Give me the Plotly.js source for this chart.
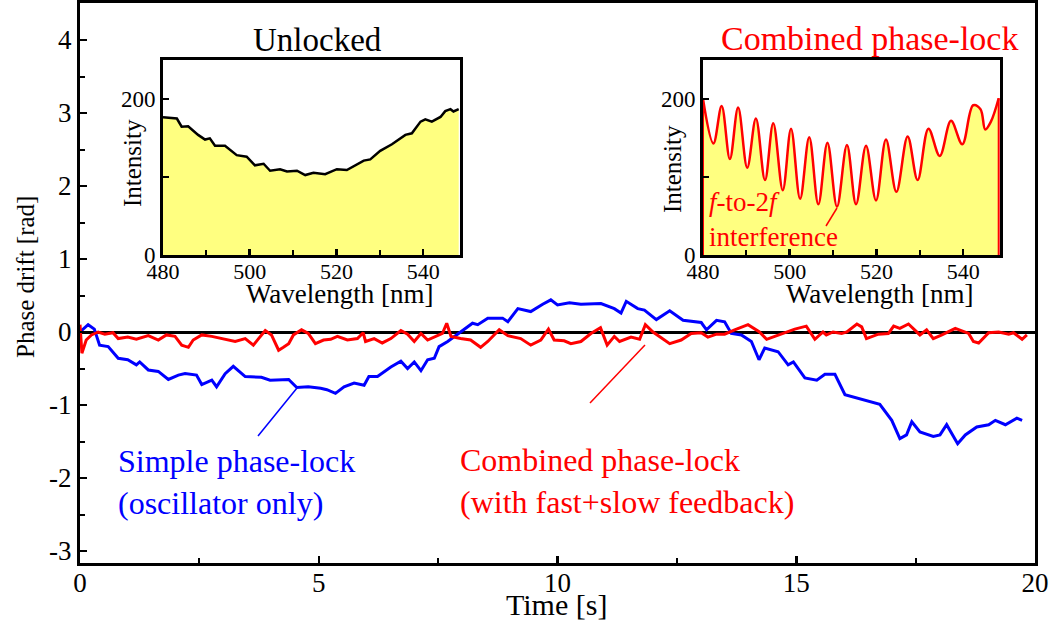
<!DOCTYPE html>
<html>
<head>
<meta charset="utf-8">
<script src="https://cdn.plot.ly/plotly-3.0.1.min.js"></script>
<style>html,body{margin:0;padding:0;background:#fff;}#chart{width:1050px;height:620px;}</style>
</head>
<body>
<div id="chart"></div>
<script>
// ---- Main panel: phase drift vs time ----
const blueT = [0,0.17,0.3,0.41,0.59,0.8,1.0,1.18,1.25,1.43,1.64,1.85,2.06,2.2,2.44,2.55,2.76,2.86,3.04,3.21,3.46,3.8,3.98,4.37,4.54,4.78,5.04,5.17,5.35,5.53,5.74,5.95,6.05,6.23,6.51,6.72,6.86,7.0,7.14,7.28,7.42,7.52,7.7,7.97,8.22,8.33,8.54,8.85,8.96,9.17,9.44,9.69,9.86,10.0,10.25,10.49,10.91,11.19,11.33,11.44,11.68,11.82,12.07,12.35,12.63,13.01,13.12,13.33,13.5,13.64,13.85,14.06,14.22,14.34,14.62,14.83,14.94,15.18,15.43,15.6,15.81,16.02,16.3,16.58,16.75,17.0,17.17,17.31,17.42,17.59,17.87,18.01,18.15,18.38,18.54,18.78,19.03,19.17,19.38,19.62,19.73];
const blueV = [0,0.1,0.04,-0.18,-0.2,-0.36,-0.38,-0.45,-0.41,-0.52,-0.54,-0.65,-0.59,-0.57,-0.59,-0.72,-0.66,-0.75,-0.57,-0.47,-0.61,-0.62,-0.66,-0.65,-0.76,-0.75,-0.77,-0.79,-0.84,-0.75,-0.70,-0.73,-0.61,-0.61,-0.48,-0.40,-0.50,-0.41,-0.53,-0.38,-0.36,-0.2,-0.13,0,0.12,0.1,0.19,0.19,0.14,0.32,0.28,0.38,0.44,0.37,0.40,0.38,0.39,0.32,0.26,0.42,0.32,0.30,0.17,0.29,0.16,0.13,0.03,0.16,0.14,-0.02,-0.04,-0.13,-0.38,-0.22,-0.27,-0.45,-0.41,-0.63,-0.66,-0.58,-0.58,-0.86,-0.91,-0.95,-0.99,-1.21,-1.46,-1.41,-1.23,-1.37,-1.43,-1.41,-1.27,-1.53,-1.41,-1.30,-1.27,-1.21,-1.27,-1.18,-1.21];

const redT = [0,0.04,0.13,0.24,0.38,0.52,0.69,0.8,1.0,1.18,1.43,1.64,1.81,1.99,2.13,2.27,2.37,2.55,2.76,3.04,3.25,3.46,3.63,3.74,3.88,4.01,4.16,4.26,4.37,4.47,4.64,4.78,4.93,5.1,5.25,5.39,5.6,5.81,5.93,5.98,6.16,6.33,6.51,6.72,6.86,7.0,7.14,7.28,7.45,7.59,7.68,7.77,7.97,8.18,8.39,8.54,8.78,8.96,9.23,9.44,9.65,9.81,9.93,10.14,10.28,10.49,10.7,10.9,11.04,11.19,11.3,11.54,11.72,11.84,12.0,12.35,12.59,12.8,13.01,13.15,13.33,13.5,13.71,13.99,14.23,14.38,14.55,14.73,14.97,15.21,15.39,15.56,15.63,15.77,15.95,16.06,16.27,16.37,16.47,16.72,16.93,17.04,17.17,17.35,17.59,17.73,17.87,18.05,18.33,18.61,18.71,18.82,19.03,19.24,19.45,19.55,19.73,19.83];
const redV = [0.1,-0.29,-0.11,-0.04,0,-0.03,-0.01,-0.09,-0.07,-0.1,-0.05,-0.11,-0.04,-0.06,-0.18,-0.21,-0.11,-0.04,-0.06,-0.1,-0.13,-0.09,-0.18,-0.09,0.02,-0.04,-0.25,-0.21,-0.16,-0.04,0.03,-0.02,-0.16,-0.11,-0.1,-0.06,-0.11,-0.09,-0.01,-0.13,-0.09,-0.15,-0.09,0.02,-0.03,-0.13,-0.02,-0.11,-0.06,-0.02,0.12,-0.06,-0.09,-0.11,-0.21,-0.13,0.03,-0.05,-0.09,-0.18,-0.11,0.04,-0.11,-0.12,-0.16,-0.13,-0.02,0.06,-0.18,-0.06,-0.13,-0.07,-0.1,0.1,0.0,-0.16,-0.11,-0.02,-0.01,-0.07,-0.03,-0.03,0.03,0.1,0,-0.1,-0.06,-0.02,0.04,0.08,-0.1,0,-0.04,0,-0.02,0,0.11,0.07,-0.09,-0.03,-0.02,0.08,0.05,0.11,-0.04,0.03,-0.09,-0.04,0.05,-0.02,-0.13,-0.15,-0.01,0,-0.03,-0.01,-0.1,-0.04];

// ---- Inset 1: unlocked spectrum ----
const wlU = [480,483.2,484.3,485.8,488.1,489.7,490.8,492,494.3,497,499.3,501.2,503.2,504.7,507,508.6,510.9,512.8,514.7,517.4,520.1,522.4,526.3,527.8,530.1,532.8,535.9,537.4,539.4,540.5,542,544,545.1,546.3,547,548.2];
const intU = [176.5,175,164.5,165,154,148,149.5,140,140,128,126,115,117,108,110,107,108,102.5,105.5,103.5,110,109,121,122.5,133.5,142,154,156,171,174,171,177,184.5,187,184,187];

// ---- Inset 2: combined phase-lock spectrum (f-to-2f fringes) ----
const wlC = [480,482.4,484.3,486.2,488.1,490.2,492.2,494.3,496.2,498.4,500.3,502.4,504.5,506.6,508.7,510.9,513.2,515.3,517.6,519.9,522.2,524.6,527.2,529.5,532,534.6,537.2,539.8,542.3,544,545.1,546.4,548.2];
const intC = [200,143,191,123,189,112,175,96,169,83,162,72,151,65,144,62,141,65,140,70,148,81,152,96,162,127,172,142,192,187,161,171,201];

// tick labels
const mainXTicks = [0,5,10,15,20];
const mainXText = ['0','5','10','15','20'];
const mainYTicks = [-3,-2,-1,0,1,2,3,4];
const mainYText = ['-3','-2','-1','0','1','2','3','4'];
const insetXTicks = [480,500,520,540];
const insetXText = ['480','500','520','540'];
const insetYTicks = [0,100,200];
const insetYText = ['0','','200'];

const FONT = 'Liberation Serif, Times New Roman, serif';
const W = 1050, H = 620;
const L = 80, R = 1035, T = 3, B = 563;
const P = px => (px - L) / (R - L);
const Q = py => (B - py) / (B - T);

const yellow = 'rgb(255,255,128)';
const lastC = wlC.length - 1;

const traces = [
  {x: wlU, y: intU, xaxis: 'x2', yaxis: 'y2', type: 'scatter', mode: 'lines',
   line: {color: 'black', width: 2.5}, fill: 'tozeroy', fillcolor: yellow, hoverinfo: 'skip'},
  {x: wlC, y: intC, xaxis: 'x3', yaxis: 'y3', type: 'scatter', mode: 'lines',
   line: {color: 'red', width: 2.5, shape: 'spline', smoothing: 1}, fill: 'tozeroy', fillcolor: yellow, hoverinfo: 'skip'},
  {x: [wlC[0], wlC[0], null, wlC[lastC], wlC[lastC]], y: [0, intC[0], null, 0, intC[lastC]],
   xaxis: 'x3', yaxis: 'y3', type: 'scatter', mode: 'lines', line: {color: 'red', width: 2}, hoverinfo: 'skip'},
  {x: blueT, y: blueV, type: 'scatter', mode: 'lines', line: {color: 'blue', width: 3}},
  {x: redT, y: redV, type: 'scatter', mode: 'lines', line: {color: 'red', width: 3}}
];

const tf = (s) => ({family: FONT, size: s, color: 'black'});

function insetX(dom, anchor) {
  return {domain: dom, anchor: anchor, range: [480, 548.5], showline: true, mirror: true,
    linecolor: 'black', linewidth: 3, ticks: 'inside', ticklen: 6, tickwidth: 2.5, tickcolor: 'black',
    tickvals: insetXTicks, ticktext: insetXText, ticklabelstandoff: -5,
    minor: {ticks: 'inside', ticklen: 5, tickwidth: 2, tickcolor: 'black', tick0: 480, dtick: 10},
    showgrid: false, zeroline: false, tickfont: tf(22), fixedrange: true};
}
function insetY(dom, anchor) {
  return {domain: dom, anchor: anchor, range: [0, 250], showline: true, mirror: true,
    linecolor: 'black', linewidth: 3, ticks: 'inside', ticklen: 6, tickwidth: 2.5, tickcolor: 'black',
    tickvals: insetYTicks, ticktext: insetYText, showgrid: false, zeroline: false, tickfont: tf(23), fixedrange: true};
}

const insetYDom = [Q(255), Q(60)];

function ann(px, py, text, size, color, extra) {
  return Object.assign({xref: 'paper', yref: 'paper', x: P(px), y: Q(py), text: text, showarrow: false,
    xanchor: 'center', yanchor: 'middle', font: {family: FONT, size: size, color: color}}, extra || {});
}

const layout = {
  width: W, height: H,
  margin: {l: L, r: W - R, t: T, b: H - B, pad: 0},
  paper_bgcolor: 'white', plot_bgcolor: 'white',
  showlegend: false,
  font: {family: FONT, color: 'black'},
  xaxis: {range: [0, 20], showline: true, mirror: true, linecolor: 'black', linewidth: 3,
    ticks: 'inside', ticklen: 7, tickwidth: 2.5, tickcolor: 'black', tickvals: mainXTicks, ticktext: mainXText,
    ticklabelstandoff: -6,
    minor: {ticks: 'inside', ticklen: 5, tickwidth: 2, tickcolor: 'black', tick0: 0, dtick: 2.5},
    showgrid: false, zeroline: false, tickfont: tf(27)},
  yaxis: {range: [(332 - 563) / 73, (332 - 3) / 73], showline: true, mirror: true, linecolor: 'black', linewidth: 3,
    ticks: 'inside', ticklen: 7, tickwidth: 2.5, tickcolor: 'black', tickvals: mainYTicks, ticktext: mainYText,
    minor: {ticks: 'inside', ticklen: 5, tickwidth: 2, tickcolor: 'black', tick0: 0, dtick: 0.5},
    showgrid: false, zeroline: true, zerolinecolor: 'black', zerolinewidth: 3, tickfont: tf(27)},
  xaxis2: insetX([P(163), P(460)], 'y2'),
  yaxis2: insetY(insetYDom, 'x2'),
  xaxis3: insetX([P(703), P(1000)], 'y3'),
  yaxis3: insetY(insetYDom, 'x3'),
  shapes: [
    {type: 'line', xref: 'paper', yref: 'paper', x0: P(258), y0: Q(436), x1: P(297), y1: Q(388), line: {color: 'blue', width: 1.5}},
    {type: 'line', xref: 'paper', yref: 'paper', x0: P(590), y0: Q(403), x1: P(645), y1: Q(345), line: {color: 'red', width: 1.5}},
    {type: 'line', xref: 'paper', yref: 'paper', x0: P(826), y0: Q(226), x1: P(837), y1: Q(208), line: {color: 'red', width: 1.5}}
  ],
  annotations: [
    ann(317, 40, 'Unlocked', 33, 'black'),
    ann(869, 38, 'Combined phase-lock', 34, 'red'),
    ann(132, 163, 'Intensity', 25, 'black', {textangle: -90}),
    ann(673, 169, 'Intensity', 25, 'black', {textangle: -90}),
    ann(340, 294, 'Wavelength [nm]', 27, 'black'),
    ann(880, 294, 'Wavelength [nm]', 27, 'black'),
    ann(707, 220, '<i>f</i>-to-2<i>f</i><br>interference', 27, 'red', {xanchor: 'left', align: 'left'}),
    ann(116, 482, 'Simple phase-lock<br>(oscillator only)', 32, 'blue', {xanchor: 'left', align: 'left'}),
    ann(458, 481, 'Combined phase-lock<br>(with fast+slow feedback)', 32, 'red', {xanchor: 'left', align: 'left'}),
    ann(556, 604, 'Time [s]', 30, 'black'),
    ann(25, 277, 'Phase drift [rad]', 25, 'black', {textangle: -90})
  ]
};

Plotly.newPlot('chart', traces, layout, {displayModeBar: false, staticPlot: true});
</script>
</body>
</html>
